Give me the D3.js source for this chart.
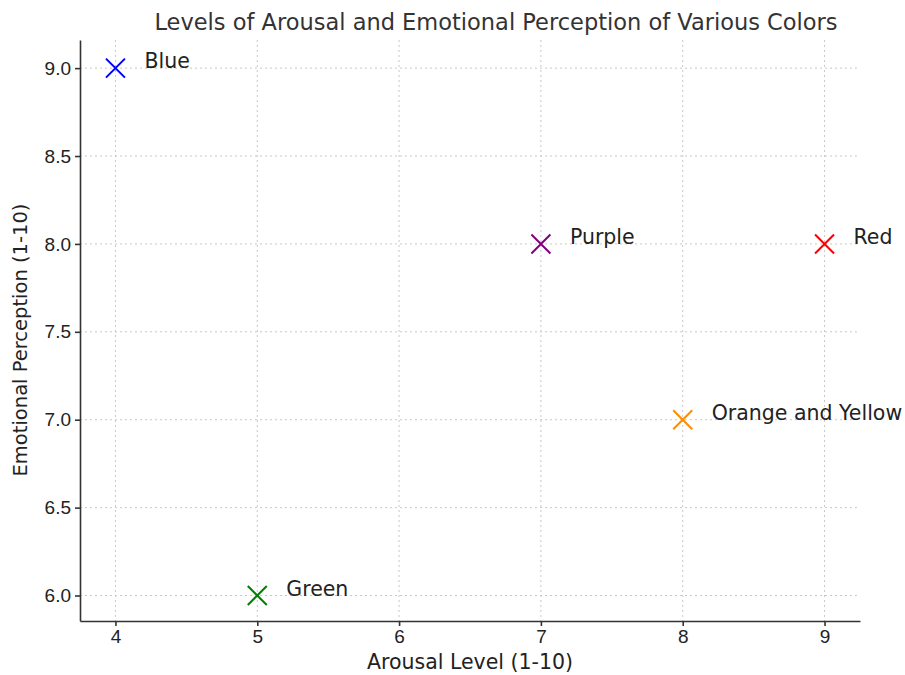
<!DOCTYPE html>
<html>
<head>
<meta charset="utf-8">
<script src="https://cdn.jsdelivr.net/npm/d3@7"></script>
<style>
    body { margin: 0; background: #fff; }
    svg { font-family: "DejaVu Sans", sans-serif; }
    .grid line { stroke: #c8c8c8; stroke-dasharray: 2,3; stroke-width: 1; }
    .axis path, .axis line { stroke: #333; stroke-width: 1.6; }
</style>
</head>
<body>
<div id="chart"></div>
<script>
// data
var colorNames = ["Red", "Blue", "Green", "Orange and Yellow", "Purple"];
var arousal = [9, 4, 5, 8, 7];
var emotion = [8, 9, 6, 7, 8];
var markColors = ["red", "blue", "green", "darkorange", "purple"];
var xTicks = [4, 5, 6, 7, 8, 9];
var yTicks = [6.0, 6.5, 7.0, 7.5, 8.0, 8.5, 9.0];

var width = 905, height = 675;
var margin = { top: 40, right: 45, bottom: 54, left: 80 };

var svg = d3.select("#chart").append("svg")
    .attr("width", width)
    .attr("height", height);

var x = d3.scaleLinear().domain([3.75, 9.25]).range([margin.left, width - margin.right]);
var y = d3.scaleLinear().domain([5.855, 9.16]).range([height - margin.bottom, margin.top]);

// grid
svg.append("g").attr("class", "grid")
    .selectAll("line.v").data(xTicks).enter().append("line")
    .attr("x1", function (d) { return x(d); }).attr("x2", function (d) { return x(d); })
    .attr("y1", margin.top).attr("y2", height - margin.bottom);
svg.append("g").attr("class", "grid")
    .selectAll("line.h").data(yTicks).enter().append("line")
    .attr("y1", function (d) { return y(d); }).attr("y2", function (d) { return y(d); })
    .attr("x1", margin.left).attr("x2", width - margin.right);

// axes, only left and bottom spines
var xAxis = svg.append("g").attr("class", "axis")
    .attr("transform", "translate(0," + (height - margin.bottom) + ")")
    .call(d3.axisBottom(x).tickValues(xTicks).tickFormat(d3.format("d")).tickSize(5).tickPadding(4).tickSizeOuter(0));
var yAxis = svg.append("g").attr("class", "axis")
    .attr("transform", "translate(" + margin.left + ",0)")
    .call(d3.axisLeft(y).tickValues(yTicks).tickFormat(d3.format(".1f")).tickSize(5).tickPadding(4).tickSizeOuter(0));
xAxis.selectAll("text").style("font-size", "19px").style("fill", "#222");
yAxis.selectAll("text").style("font-size", "19px").style("fill", "#222");

// title and axis labels
svg.append("text")
    .attr("x", (margin.left + width - margin.right) / 2 + 26).attr("y", 30)
    .attr("text-anchor", "middle")
    .style("font-size", "22.5px").style("fill", "#333")
    .text("Levels of Arousal and Emotional Perception of Various Colors");
svg.append("text")
    .attr("x", (margin.left + width - margin.right) / 2).attr("y", 669)
    .attr("text-anchor", "middle")
    .style("font-size", "20.5px").style("fill", "#222")
    .text("Arousal Level (1-10)");
svg.append("text")
    .attr("transform", "translate(27,340) rotate(-90)")
    .attr("text-anchor", "middle")
    .style("font-size", "19.5px").style("fill", "#222")
    .text("Emotional Perception (1-10)");

// x markers
var s = 9.5;
var pts = svg.append("g").selectAll("g.pt")
    .data(colorNames).enter().append("g")
    .attr("transform", function (d, i) { return "translate(" + x(arousal[i]) + "," + y(emotion[i]) + ")"; });
pts.append("path")
    .attr("d", "M" + (-s) + "," + (-s) + "L" + s + "," + s + "M" + (-s) + "," + s + "L" + s + "," + (-s))
    .attr("stroke", function (d, i) { return markColors[i]; })
    .attr("stroke-width", 2)
    .attr("fill", "none");
pts.append("text")
    .attr("x", 29).attr("y", 0)
    .style("font-size", "20.5px").style("fill", "#222")
    .text(function (d) { return d; });
</script>
</body>
</html>
